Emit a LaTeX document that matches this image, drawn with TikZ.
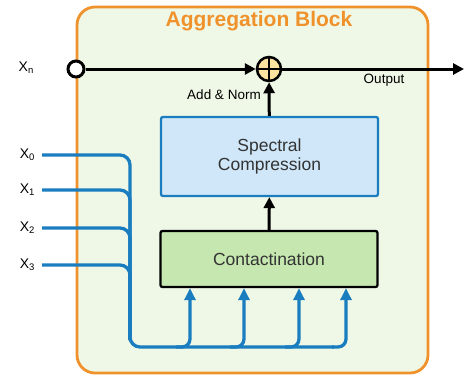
\documentclass[tikz,border=0pt]{standalone}
\usepackage{fontspec}
\setmainfont{Liberation Sans}
\usetikzlibrary{arrows.meta}
\definecolor{orng}{HTML}{F0922B}
\definecolor{bgg}{HTML}{EFF8E7}
\definecolor{blu}{HTML}{1A7DC0}
\definecolor{lblu}{HTML}{CFE7F8}
\definecolor{grn}{HTML}{C6E8B0}
\definecolor{plusc}{HTML}{FDE3A0}
\definecolor{txt}{HTML}{333333}
\begin{document}
\begin{tikzpicture}[x=1pt,y=-1pt,
  blk/.style={draw, line width=2.3pt, rounded corners=2pt, minimum width=217pt, align=center, text=txt, font=\fontsize{17.5}{21}\selectfont},
  lbl/.style={font=\fontsize{13.5}{16}\selectfont, text=black},
  xl/.style={font=\fontsize{14}{16}\selectfont, text=black},
  bk/.style={black, line width=3pt},
  bkarr/.style={bk, -{Triangle[length=11pt,width=11pt]}},
  wire/.style={blu, line width=3.3pt, rounded corners=10pt},
  warr/.style={wire, rounded corners=8pt, -{Triangle[length=12pt,width=11pt]}}
]
\useasboundingbox (0,0) rectangle (465,376);
\draw[orng, line width=2.8pt, fill=bgg, rounded corners=18pt] (77,7) rectangle (428,373);
\node[text=orng, font=\bfseries\fontsize{21}{24}\selectfont] (title) at (259,21) {Aggregation Block};

\node[blk, fill=lblu, draw=blu, minimum height=79pt] (spec) at (269.5,156.5) {Spectral\\[-2pt]Compression};
\node[blk, fill=grn, draw=black, minimum height=56pt] (cont) at (269,259) {Contactination};

\node[circle, draw, line width=3pt, fill=white, minimum size=16pt, inner sep=0pt] (xin) at (76,69) {};
\node[circle, draw, line width=2.5pt, fill=plusc, minimum size=24pt, inner sep=0pt] (add) at (269,69) {};
\draw[black, line width=2.3pt] (add.north) -- (add.south) (add.west) -- (add.east);
\coordinate (out) at (464,69);

\node[xl] (xn) at (26,68) {X\raisebox{-0.15em}{\fontsize{9.5}{10}\selectfont n}};
\node[lbl] (addl) at (224,95) {Add \& Norm};
\node[lbl] (outl) at (384,80) {Output};

\draw[bkarr] (xin) -- (add);
\draw[bkarr] (add) -- (out);
\draw[bkarr] (spec) -- (add);
\draw[bkarr] (cont) -- (spec);

\coordinate (bend) at (346,347);
\foreach \i/\y in {0/155,1/190,2/228,3/265}{
  \node[xl, anchor=east] (x\i) at (38,\y) {X\raisebox{-0.15em}{\fontsize{9.5}{10}\selectfont \i}};
  \coordinate (w\i) at (42,\y);
  \draw[wire] (w\i) -| (130,340);
}
\draw[wire] (130,300) |- (334,347);
\foreach \x in {190,244,299,346}{
  \draw[warr] (\x-14,347) -- (\x,347) -- (cont.south -| \x,0);
}
\end{tikzpicture}
\end{document}
